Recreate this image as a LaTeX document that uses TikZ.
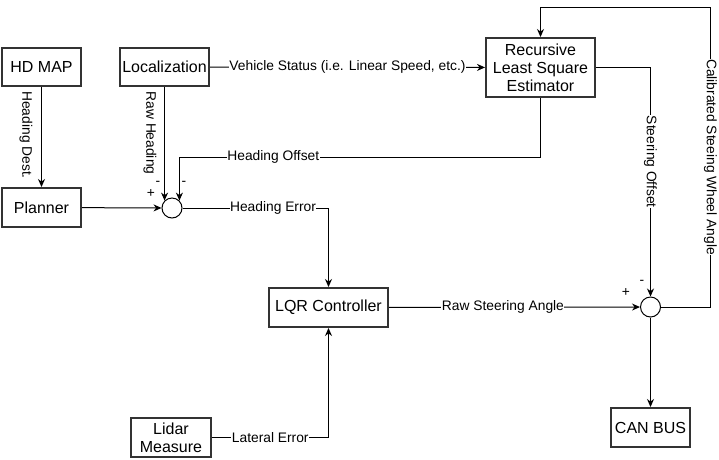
\documentclass[tikz,border=0pt]{standalone}
\usepackage{fontspec}
\setmainfont{Liberation Sans}
\usepackage{xcolor}
\usepackage{tikz}
\usetikzlibrary{
  arrows.meta,
  positioning,
}
\definecolor{boxgray}{HTML}{333333}

\begin{document}
\begin{tikzpicture}[
    x=1pt, y=-1pt, line width=1pt,
    >={Stealth[length=8pt, width=7pt]},
    block/.style={draw=boxgray, line width=2pt, fill=white, align=center,
                  inner sep=0pt, font=\fontsize{16}{18}\selectfont},
    sumnode/.style={circle, draw, line width=1pt, minimum size=20pt, inner sep=0pt},
    lbl/.style={fill=white, inner sep=0.5pt, font=\fontsize{13.8}{15}\selectfont},
    sgn/.style={inner sep=0pt, font=\fontsize{13.8}{15}\selectfont},
  ]
  \useasboundingbox[fill=white] (0,0) rectangle (719,459);

  % blocks
  \node[block, minimum width=79pt, minimum height=38pt]  (hdmap)   at (41.5,67)    {HD MAP};
  \node[block, minimum width=89pt, minimum height=38pt]  (loc)     at (164.5,67)   {Localization};
  \node[block, minimum width=79pt, minimum height=39pt]  (planner) at (41.5,207.5) {Planner};
  \node[block, minimum width=109pt, minimum height=59pt] (rls)     at (540.5,67.5) {Recursive\\Least Square\\Estimator};
  \node[block, minimum width=119pt, minimum height=39pt] (lqr)     at (328.5,307.5) {LQR Controller};
  \node[block, minimum width=80pt, minimum height=39pt]  (lidar)   at (171,437.5)  {Lidar\\Measure};
  \node[block, minimum width=79pt, minimum height=39pt]  (can)     at (650.5,427.5) {CAN BUS};

  % summing points
  \node[sumnode] (sum1) at (172,208) {};
  \node[sumnode] (sum2) at (650.5,307) {};

  % signs
  \node[sgn] (sum1plus)  at (151,194) {+};
  \node[sgn] (sum1minA)  at (158,183) {-};
  \node[sgn] (sum1minB)  at (184,183) {-};
  \node[sgn] (sum2plus)  at (626,293) {+};
  \node[sgn] (sum2minus) at (642,282) {-};

  % side labels
  \node[lbl, rotate=-90] (headdest) at (26,135)  {Heading Dest.};
  \node[lbl, rotate=-90] (rawhead)  at (150,133) {Raw Heading};

  % connectors
  \draw[->] (hdmap) -- (planner);
  \draw[->] (loc.south -| sum1.north west) -- (sum1.north west);
  \draw[->] (planner) -- (sum1);
  \draw[->] (loc) -- node[lbl] (vstat) {Vehicle Status (i.e. Linear Speed, etc.)} (rls);
  \draw[->] (rls.south) -- ++(0,59) -| node[lbl, pos=0.37] (hoff) {Heading Offset} (sum1.north east);
  \draw[->] (sum1) -| node[lbl, pos=0.31] (herr) {Heading Error} (lqr);
  \draw[->] (lidar) -| node[lbl, pos=0.25] (laterr) {Lateral Error} (lqr);
  \draw[->] (lqr) -- node[lbl, pos=0.454] (rawsteer) {Raw Steering Angle} (sum2);
  \draw[->] (rls) -| node[lbl, rotate=-90, pos=0.706] (steeroff) {Steering Offset} (sum2);
  \draw[->] (sum2.east) -| node[lbl, rotate=-90, pos=0.75] (calib) {Calibrated Steeing Wheel Angle}
    ++(49.5,-300) -| (rls.north);
  \draw[->] (sum2) -- (can);
\end{tikzpicture}
\end{document}
